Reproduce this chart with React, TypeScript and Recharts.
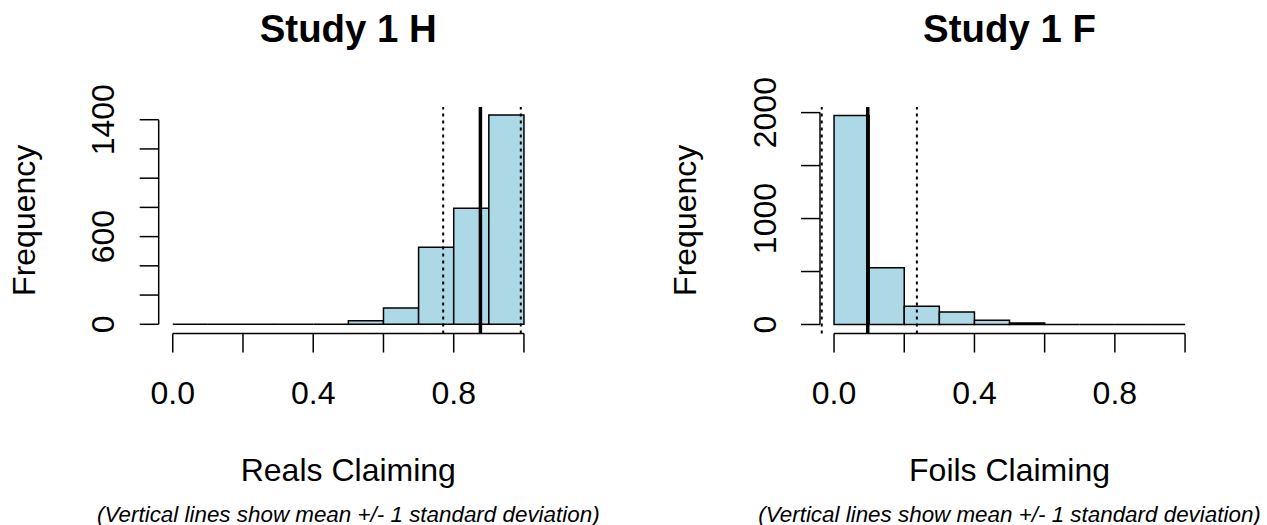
import React from 'react';
import { ComposedChart, XAxis, YAxis, ReferenceArea, ReferenceLine } from 'recharts';

// histogram bins (proportion claimed), 0.1 wide
const BIN_EDGES = [0, 0.1, 0.2, 0.3, 0.4, 0.5, 0.6, 0.7, 0.8, 0.9, 1.0];

// counts per bin
const REALS_COUNTS = [0, 0, 0, 0, 0, 25, 112, 527, 794, 1432];
const FOILS_COUNTS = [1973, 535, 173, 119, 41, 15, 0, 0, 0, 0];

// mean and mean +/- 1 sd
const REALS_MEAN = 0.876;
const REALS_SD_BOUNDS = [0.77, 0.991];
const FOILS_MEAN = 0.096;
const FOILS_SD_BOUNDS = [-0.035, 0.236];

const X_TICKS = [0, 0.2, 0.4, 0.6, 0.8, 1.0];
const X_TICK_LABELS = ['0.0', '', '0.4', '', '0.8', ''];

const REALS_Y_TICKS = [0, 200, 400, 600, 800, 1000, 1200, 1400];
const REALS_Y_LABELS = ['0', '', '', '600', '', '', '', '1400'];
const FOILS_Y_TICKS = [0, 500, 1000, 1500, 2000];
const FOILS_Y_LABELS = ['0', '', '1000', '', '2000'];

const FONT = '"Liberation Sans", Arial, Helvetica, sans-serif';
const X_DOMAIN: [number, number] = [-0.04, 1.04];

type PanelProps = {
  left: number;
  width: number;
  plotLeft: number;
  plotRight: number;
  counts: number[];
  mean: number;
  sdBounds: number[];
  yTicks: number[];
  yLabels: string[];
  yDomain: [number, number];
};

function HistPanel({ left, width, plotLeft, plotRight, counts, mean, sdBounds, yTicks, yLabels, yDomain }: PanelProps) {
  const XTick = (props: any) => {
    const { x, y, payload } = props;
    const idx = X_TICKS.findIndex((t) => Math.abs(t - payload.value) < 1e-9);
    const label = X_TICK_LABELS[idx];
    if (!label) return null;
    return (
      <text x={x} y={y + 49.5} textAnchor="middle" fontSize={32} fontFamily={FONT} fill="#000">
        {label}
      </text>
    );
  };

  const YTick = (props: any) => {
    const { x, y, payload } = props;
    const idx = yTicks.findIndex((t) => t === payload.value);
    const label = yLabels[idx];
    if (!label) return null;
    const bx = x - 23.3;
    return (
      <text x={bx} y={y} transform={`rotate(-90 ${bx} ${y})`} textAnchor="middle" fontSize={32} fontFamily={FONT} fill="#000">
        {label}
      </text>
    );
  };

  const yAxisW = 40;
  const xAxisH = 40;
  const plotTop = 107;
  const plotBottom = 333.5;

  return (
    <div style={{ position: 'absolute', left, top: 0 }}>
      <ComposedChart
        width={width}
        height={525}
        margin={{
          top: plotTop,
          left: plotLeft - left - yAxisW,
          right: width - (plotRight - left),
          bottom: 525 - plotBottom - xAxisH,
        }}
      >
        <XAxis
          type="number"
          dataKey="x"
          domain={X_DOMAIN}
          allowDataOverflow
          ticks={X_TICKS}
          interval={0}
          height={xAxisH}
          axisLine={false}
          tickLine={{ stroke: '#000', strokeWidth: 1.5 }}
          tickSize={19}
          tick={<XTick />}
        />
        <YAxis
          type="number"
          domain={yDomain}
          allowDataOverflow
          ticks={yTicks}
          interval={0}
          width={yAxisW}
          axisLine={false}
          tickLine={{ stroke: '#000', strokeWidth: 1.5 }}
          tickSize={19}
          tick={<YTick />}
        />

        {/* R-style axis lines, only between first and last tick */}
        <ReferenceLine
          segment={[{ x: X_TICKS[0], y: yDomain[0] }, { x: X_TICKS[X_TICKS.length - 1], y: yDomain[0] }]}
          stroke="#000"
          strokeWidth={1.5}
          ifOverflow="visible"
        />
        <ReferenceLine
          segment={[{ x: X_DOMAIN[0], y: yTicks[0] }, { x: X_DOMAIN[0], y: yTicks[yTicks.length - 1] }]}
          stroke="#000"
          strokeWidth={1.5}
          ifOverflow="visible"
        />

        {/* histogram bars; empty bins collapse to a line on zero */}
        {counts.map((c, i) =>
          c > 0 ? (
            <ReferenceArea
              key={`bar-${i}`}
              x1={BIN_EDGES[i]}
              x2={BIN_EDGES[i + 1]}
              y1={0}
              y2={c}
              fill="#ADD8E6"
              fillOpacity={1}
              stroke="#000"
              strokeWidth={1.5}
              ifOverflow="visible"
            />
          ) : (
            <ReferenceLine
              key={`bar-${i}`}
              segment={[{ x: BIN_EDGES[i], y: 0 }, { x: BIN_EDGES[i + 1], y: 0 }]}
              stroke="#000"
              strokeWidth={1.5}
              ifOverflow="visible"
            />
          )
        )}

        {/* mean +/- 1 sd */}
        {sdBounds.map((v, i) => (
          <ReferenceLine key={`sd-${i}`} x={v} stroke="#000" strokeWidth={2} strokeDasharray="3 4" ifOverflow="visible" />
        ))}
        <ReferenceLine x={mean} stroke="#000" strokeWidth={3.5} ifOverflow="visible" />
      </ComposedChart>
    </div>
  );
}

export default function App() {
  const texts = [
    { cx: 348.3, yLabX: 35, title: 'Study 1 H', xLabel: 'Reals Claiming' },
    { cx: 1009.5, yLabX: 695.7, title: 'Study 1 F', xLabel: 'Foils Claiming' },
  ];
  return (
    <div style={{ position: 'absolute', left: 0, top: 0, width: 1267, height: 525, background: '#fff', fontFamily: FONT }}>
      <HistPanel
        left={0}
        width={633}
        plotLeft={158.7}
        plotRight={538}
        counts={REALS_COUNTS}
        mean={REALS_MEAN}
        sdBounds={REALS_SD_BOUNDS}
        yTicks={REALS_Y_TICKS}
        yLabels={REALS_Y_LABELS}
        yDomain={[-63, 1487]}
      />
      <HistPanel
        left={633}
        width={634}
        plotLeft={820}
        plotRight={1199.1}
        counts={FOILS_COUNTS}
        mean={FOILS_MEAN}
        sdBounds={FOILS_SD_BOUNDS}
        yTicks={FOILS_Y_TICKS}
        yLabels={FOILS_Y_LABELS}
        yDomain={[-85, 2053]}
      />
      <svg width={1267} height={525} style={{ position: 'absolute', left: 0, top: 0, pointerEvents: 'none' }}>
        {texts.map((t) => (
          <g key={t.title} fontFamily={FONT} fill="#000">
            <text x={t.cx} y={42.3} textAnchor="middle" fontSize={38.4} fontWeight="bold">
              {t.title}
            </text>
            <text x={t.cx} y={481} textAnchor="middle" fontSize={32}>
              {t.xLabel}
            </text>
            <text x={t.yLabX} y={220.3} transform={`rotate(-90 ${t.yLabX} 220.3)`} textAnchor="middle" fontSize={32}>
              Frequency
            </text>
            <text x={t.cx} y={521.5} textAnchor="middle" fontSize={22.4} fontStyle="italic">
              (Vertical lines show mean +/- 1 standard deviation)
            </text>
          </g>
        ))}
      </svg>
    </div>
  );
}
